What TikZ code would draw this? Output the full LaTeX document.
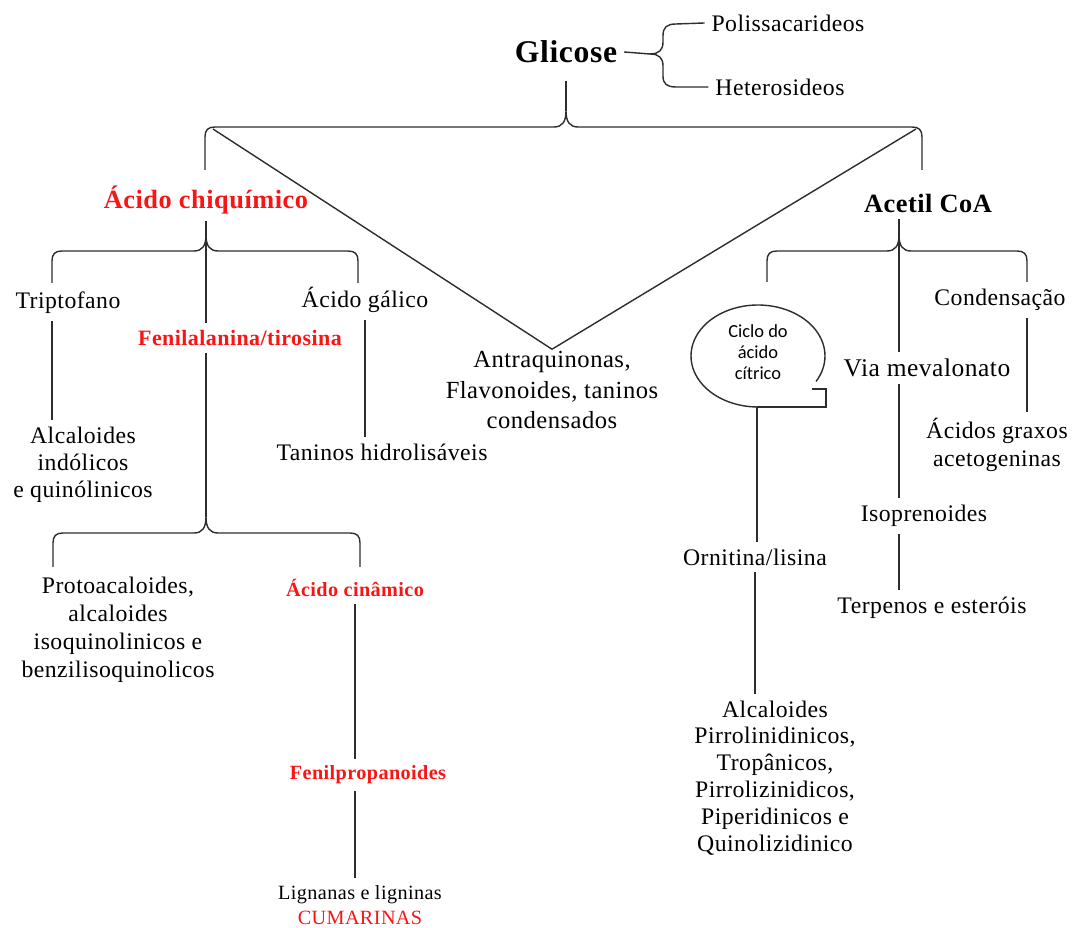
\documentclass[tikz,border=0pt]{standalone}
\usepackage{fontspec}
\setmainfont{Liberation Serif}[LetterSpace=2]
\newfontfamily\cicfont{Carlito}
\usepackage{tikz}
\usetikzlibrary{calc}
\definecolor{pathred}{RGB}{250,20,20}
\definecolor{linegray}{RGB}{45,45,45}
% brace with an upward tip: #1 tip x, #2 bar y, #3 left x, #4 right x, #5 end y
\newcommand{\tipbrace}[5]{(#3,#5) -- (#3,#2+10) .. controls (#3,#2+3) and (#3+3,#2) .. (#3+10,#2) -- (#1-12,#2) .. controls (#1-4,#2) and (#1,#2-5) .. (#1,#2-16) .. controls (#1,#2-5) and (#1+4,#2) .. (#1+12,#2) -- (#4-10,#2) .. controls (#4-3,#2) and (#4,#2+3) .. (#4,#2+10) -- (#4,#5)}

\begin{document}
\begin{tikzpicture}[x=0.02cm, y=-0.02cm,
    lbl/.style={align=center, inner sep=2pt, outer sep=2pt, font=\fontsize{13.5}{15.5}\selectfont},
    redlbl/.style={lbl, text=pathred, font=\bfseries\fontsize{12.5}{15}\selectfont},
    smallred/.style={lbl, text=pathred, font=\bfseries\fontsize{11.5}{14}\selectfont},
    head/.style={lbl, font=\bfseries\fontsize{15}{18}\selectfont},
    link/.style={draw=linegray, line width=0.8pt}
]
    \useasboundingbox (0,0) rectangle (1076,928);

    % top level
    \node[head, font=\bfseries\fontsize{18}{20}\selectfont] (glic) at (566,52) {Glicose};
    \node[lbl] (poli) at (788,23) {Polissacarideos};
    \node[lbl] (het) at (780,87) {Heterosideos};
    \node[lbl, font=\fontsize{14}{17.5}\selectfont] (antra) at (552,390) {Antraquinonas,\\Flavonoides, taninos\\condensados};

    % shikimic branch
    \node[head, text=pathred] (chq) at (206,200) {Ácido chiquímico};
    \node[lbl] (trip) at (68,303) {Triptofano};
    \node[lbl] (alcind) at (83,465) {Alcaloides\\indólicos\\e quinólinicos};
    \node[redlbl] (fenil) at (240,338) {Fenilalanina/tirosina};
    \node[lbl] (galico) at (365,300) {Ácido gálico};
    \node[lbl] (tanhid) at (382,452) {Taninos hidrolisáveis};
    \node[lbl, font=\fontsize{13.5}{16}\selectfont] (proto) at (118,630) {Protoacaloides,\\alcaloides\\isoquinolinicos e\\benzilisoquinolicos};
    \node[smallred] (cinam) at (355,588) {Ácido cinâmico};
    \node[smallred] (fprop) at (368,775) {Fenilpropanoides};
    \node[lbl, font=\fontsize{11.5}{14.2}\selectfont] (lign) at (360,905) {Lignanas e ligninas\\\textcolor{pathred}{CUMARINAS}};

    % acetyl branch
    \node[head] (acetil) at (928,203) {Acetil CoA};
    \node[lbl, font=\fontsize{10.5}{12}\cicfont] (ciclo) at (758,352) {Ciclo do\\ácido\\cítrico};
    \node[lbl] (orn) at (755,557) {Ornitina/lisina};
    \node[lbl, font=\fontsize{13.5}{15.3}\selectfont] (alcpir) at (775,778) {Alcaloides\\Pirrolinidinicos,\\Tropânicos,\\Pirrolizinidicos,\\Piperidinicos e\\Quinolizidinico};
    \node[lbl] (cond) at (1000,300) {Condensação};
    \node[lbl, font=\fontsize{14.5}{17}\selectfont] (viamev) at (927,368) {Via mevalonato};
    \node[lbl] (acgrax) at (997,445) {Ácidos graxos\\acetogeninas};
    \node[lbl] (isop) at (924,516) {Isoprenoides};
    \node[lbl] (terp) at (932,608) {Terpenos e esteróis};

    \coordinate (mainL) at (213,129);
    \coordinate (mainR) at (916,129);
    \coordinate (chqL) at (52,283);
    \coordinate (acT) at (899,235);
    \coordinate (acR) at (1027,282);
    \coordinate (cicB) at (757,407);

    % Glicose
    \draw[link] ([yshift=-6pt]glic.south) -- (566,111);
    \draw[link] \tipbrace{566}{127}{205}{922}{170};
    \draw[link] (mainL) -- ([yshift=-3pt]antra.north) -- (mainR);
    \draw[link] (glic.east) -- (650,54) .. controls (659,54) and (663,50) .. (663,42) -- (663,36) .. controls (663,27) and (667,24) .. (676,24) -- (poli.west);
    \draw[link] (650,54) .. controls (659,54) and (663,58) .. (663,66) -- (663,76) .. controls (663,84) and (667,87) .. (676,87) -- (het.west);

    % chiquimico
    \draw[link] (chq.south) -- (chq.south |- fenil.north);
    \draw[link] \tipbrace{206}{251}{52}{358}{283};
    \draw[link] (trip.south -| chqL) -- (alcind.north -| chqL);
    \draw[link] (galico.south) -- (galico.south |- tanhid.north);
    \draw[link] (fenil.south -| chq.south) -- (206,517);
    \draw[link] \tipbrace{206}{533}{53}{360}{567};
    \draw[link] (cinam.south) -- (cinam.south |- fprop.north);
    \draw[link] (fprop.south -| cinam.south) -- (cinam.south |- lign.north);

    % acetil
    \draw[link] (acT |- acetil.south) -- (acT |- viamev.north);
    \draw[link] \tipbrace{899}{251}{767}{1027}{282};
    \draw[link] (cond.south -| acR) -- (acgrax.north -| acR);
    \draw[link] (viamev.south -| acT) -- (isop.north -| acT);
    \draw[link] (isop.south -| acT) -- (terp.north -| acT);
    \draw[link] plot[smooth, samples=80, domain=-90:-390] ({758+67*cos(\x)},{356-51*sin(\x)});
    \draw[link] (812,389) -- (826,389) -- (826,407) -- (cicB);
    \draw[link] (cicB) -- (cicB |- orn.north);
    \draw[link] (orn.south) -- (orn.south |- alcpir.north);
\end{tikzpicture}
\end{document}
